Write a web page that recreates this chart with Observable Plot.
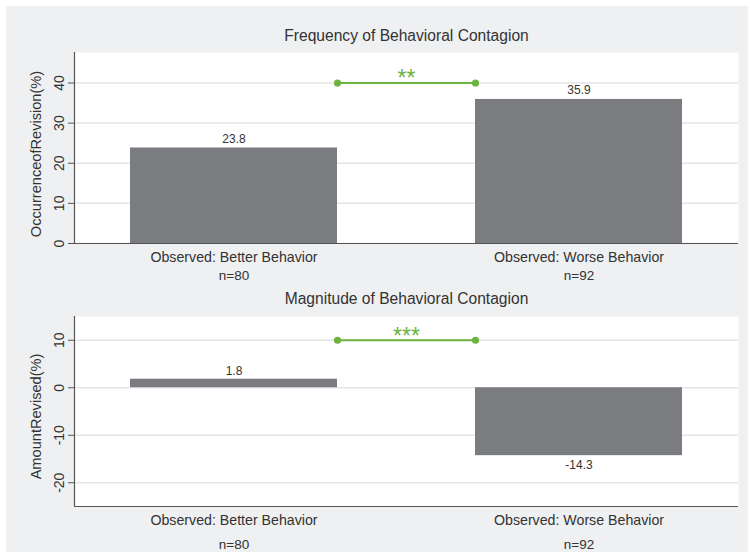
<!DOCTYPE html>
<html>
<head>
<meta charset="utf-8">
<script src="https://cdn.jsdelivr.net/npm/d3@7"></script>
<script src="https://cdn.jsdelivr.net/npm/@observablehq/plot@0.6"></script>
<style>
  html, body { margin: 0; padding: 0; background: #ffffff; }
  #wrap { position: relative; width: 750px; height: 552px; background: #ffffff; overflow: hidden; }
  #inner { position: absolute; left: 6px; top: 6px; width: 742px; height: 546px; background: #eff0f2; }
  #inner svg { display: block; overflow: visible; }
</style>
</head>
<body>
<div id="wrap"><div id="inner"></div></div>
<script>
// ---- data ----
const categories = ["Observed: Better Behavior", "Observed: Worse Behavior"];
const sampleSizes = ["n=80", "n=92"];
const occurrence = [23.8, 35.9];
const amount = [1.8, -14.3];
const freqTicks = [0, 10, 20, 30, 40];
const magTicks = [-20, -10, 0, 10];
const freqTitle = "Frequency of Behavioral Contagion";
const magTitle = "Magnitude of Behavioral Contagion";
const freqYLabel = "OccurrenceofRevision(%)";
const magYLabel = "AmountRevised(%)";
const freqSig = "**";
const magSig = "***";
const freqSigLevel = 40;
const magSigLevel = 10;

// ---- styles ----
const FONT = "'Liberation Sans', Arial, Helvetica, sans-serif";
const BAR = "#7b7c80";
const GREEN = "#6db33f";
const TEXT = "#333333";
const GRID = "#e4e5e7";
const AXIS = "#555555";
const XDOM = [-0.4623, 1.4623];
const HALF = 0.3;

function panel(cfg) {
  const rows = categories.map((c, i) => ({i, cat: c, n: sampleSizes[i], v: cfg.values[i]}));
  const pos = rows.filter(d => d.v >= 0);
  const neg = rows.filter(d => d.v < 0);
  const sig = [{x1: HALF, x2: 1 - HALF, y: cfg.sigLevel, text: cfg.sig}];
  const ends = [{x: HALF, y: cfg.sigLevel}, {x: 1 - HALF, y: cfg.sigLevel}];
  return Plot.plot({
    width: 742,
    height: cfg.height,
    marginLeft: 68,
    marginRight: 10,
    marginTop: cfg.mt,
    marginBottom: cfg.mb,
    style: {background: "transparent", fontFamily: FONT, color: TEXT, overflow: "visible"},
    x: {domain: XDOM, axis: null},
    y: {domain: cfg.yDomain, axis: null},
    marks: [
      Plot.frame({fill: "white", stroke: null}),
      Plot.gridY(cfg.ticks, {stroke: GRID, strokeOpacity: 1, strokeWidth: 1.5}),
      Plot.axisY(cfg.ticks, {tickSize: 6, tickRotate: -90, tickPadding: 5, tickFormat: d => String(d), fontSize: 14, stroke: AXIS, fill: TEXT, label: null}),
      Plot.rectY(rows, {x1: d => d.i - HALF, x2: d => d.i + HALF, y1: 0, y2: "v", fill: BAR}),
      Plot.text(pos, {x: "i", y: "v", text: d => d.v.toFixed(1), dy: -cfg.labelGap, fontSize: 12, fill: TEXT}),
      Plot.text(neg, {x: "i", y: "v", text: d => d.v.toFixed(1), dy: cfg.labelGap + 1, fontSize: 12, fill: TEXT}),
      Plot.ruleX([XDOM[0]], {stroke: AXIS, strokeWidth: 1.2}),
      Plot.ruleY([cfg.yDomain[0]], {stroke: AXIS, strokeWidth: 1.2}),
      Plot.link(sig, {x1: "x1", x2: "x2", y1: "y", y2: "y", stroke: GREEN, strokeWidth: 2.2}),
      Plot.dot(ends, {x: "x", y: "y", r: 3.6, fill: GREEN, stroke: null}),
      Plot.text(sig, {x: 0.5, y: "y", text: "text", dy: cfg.starDy, fontSize: 23, fill: GREEN}),
      Plot.text(rows, {x: "i", frameAnchor: "bottom", lineAnchor: "middle", text: "cat", dy: 14, fontSize: 14.2, fill: TEXT}),
      Plot.text(rows, {x: "i", frameAnchor: "bottom", lineAnchor: "middle", text: "n", dy: cfg.nDy, fontSize: 13.5, fill: TEXT}),
      Plot.text([cfg.title], {frameAnchor: "top", lineAnchor: "middle", text: d => d, dy: cfg.titleDy, fontSize: 15.6, fill: TEXT}),
      Plot.text([cfg.yLabel], {frameAnchor: "left", textAnchor: "middle", lineAnchor: "middle", text: d => d, rotate: -90, dx: -38, dy: cfg.yLabelDy, fontSize: 14.6, fill: TEXT})
    ]
  });
}

const inner = document.getElementById("inner");
inner.appendChild(panel({
  values: occurrence, yDomain: [0, 47.6], ticks: freqTicks, height: 274, mt: 46, mb: 37,
  sig: freqSig, sigLevel: freqSigLevel, starDy: -4, labelGap: 9, nDy: 32, titleDy: -17, yLabelDy: 6,
  title: freqTitle, yLabel: freqYLabel
}));
inner.appendChild(panel({
  values: amount, yDomain: [-25, 15], ticks: magTicks, height: 272, mt: 36, mb: 46,
  sig: magSig, sigLevel: magSigLevel, starDy: -4, labelGap: 8, nDy: 38.5, titleDy: -18, yLabelDy: 5,
  title: magTitle, yLabel: magYLabel
}));
</script>
</body>
</html>
